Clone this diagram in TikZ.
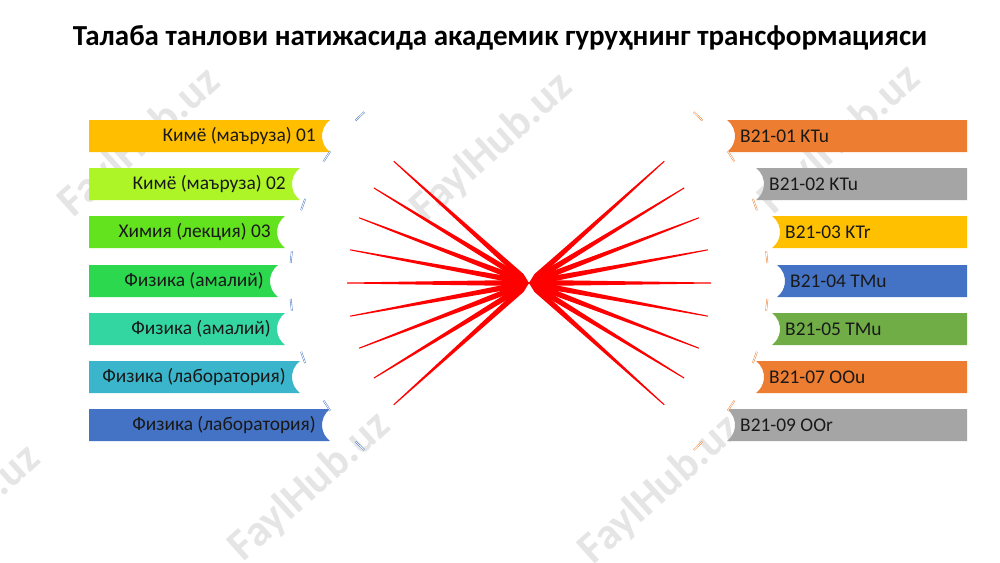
\documentclass[tikz,border=0pt]{standalone}
\usepackage{fontspec}
\setmainfont{Carlito}
\definecolor{lbarA}{HTML}{FFBE00}
\definecolor{lbarB}{HTML}{ADF527}
\definecolor{lbarC}{HTML}{63E21E}
\definecolor{lbarD}{HTML}{2CD84E}
\definecolor{lbarE}{HTML}{33D6A0}
\definecolor{lbarF}{HTML}{3AB5CB}
\definecolor{lbarG}{HTML}{4472C4}
\definecolor{rbarA}{HTML}{ED7D31}
\definecolor{rbarB}{HTML}{A5A5A5}
\definecolor{rbarC}{HTML}{FFC000}
\definecolor{rbarD}{HTML}{4472C4}
\definecolor{rbarE}{HTML}{70AD47}
\begin{document}
\begin{tikzpicture}[x=1pt, y=-1pt,
    bartext/.style={font=\fontsize{19.4}{22}\selectfont, text=black!90, inner sep=0pt},
    ray/.style={fill=red},
    bluemark/.style={draw=lbarG, double=white, double distance=0.8pt, line width=0.45pt},
    orangemark/.style={bluemark, draw=rbarA},
    wmark/.style={font=\fontsize{44}{48}\selectfont\bfseries, text=black!10, rotate=42}]
    \useasboundingbox (0,0) rectangle (1000,562);
    \fill[white] (0,0) rectangle (1000,562);

    % watermark
    \node[wmark] (wm1) at (140,143) {FaylHub.uz};
    \node[wmark] (wm2) at (492,148) {FaylHub.uz};
    \node[wmark] (wm3) at (840,140) {FaylHub.uz};
    \node[wmark] (wm4) at (-40,520) {FaylHub.uz};
    \node[wmark] (wm5) at (310,487) {FaylHub.uz};
    \node[wmark] (wm6) at (660,490) {FaylHub.uz};

    \node[font=\fontsize{29}{33}\selectfont\bfseries] (title) at (500,38)
        {Талаба танлови натижасида академик гуруҳнинг трансформацияси};

    \coordinate (apex) at (529,283);
    \coordinate (cl) at (519,281);
    \coordinate (cr) at (539,281);

    % left bars
    \foreach \yc/\xe/\col/\txt [count=\i] in {136/330/lbarA/Кимё (маъруза) 01,
        184/300/lbarB/Кимё (маъруза) 02, 232/285/lbarC/Химия (лекция) 03,
        281/278/lbarD/Физика (амалий), 329/285/lbarE/Физика (амалий),
        377/300/lbarF/Физика (лаборатория), 425/330/lbarG/Физика (лаборатория)}{
        \fill[\col] (89,\yc-16) -- (\xe,\yc-16) arc[start angle=233.13, end angle=126.87, radius=20]
            -- (89,\yc+16) -- cycle;
        \node[bartext, anchor=east] (l\i) at (\xe-14,\yc) {\txt};
    }

    % right bars
    \foreach \yc/\xs/\col/\txt [count=\i] in {136/727/rbarA/B21-01 KTu,
        184/756/rbarB/B21-02 KTu, 232/772/rbarC/B21-03 KTr,
        281/777/rbarD/B21-04 TMu, 329/772/rbarE/B21-05 TMu,
        377/756/rbarA/B21-07 OOu, 425/727/rbarB/B21-09 OOr}{
        \fill[\col] (967,\yc-16) -- (\xs,\yc-16) arc[start angle=-53.13, end angle=53.13, radius=20]
            -- (967,\yc+16) -- cycle;
        \node[bartext, anchor=west] (r\i) at (\xs+13,\yc) {\txt};
    }

    % fans
    \foreach \a in {-42,-31.5,...,42}{
        \fill[ray, shift={(apex)}, rotate=\a] (0,0) -- (-10,3) -- (-182,0.5) -- (-182,-0.5) -- (-10,-3) -- cycle;
        \fill[ray, shift={(apex)}, rotate=\a] (0,0) -- (10,3) -- (182,0.5) -- (182,-0.5) -- (10,-3) -- cycle;
    }

    % arc marks
    \foreach \a in {134,147,160.5,174,186,199.5,213,226}
        \draw[bluemark, shift={(cl)}, rotate=\a] (229,-6) -- (229,6);
    \foreach \a in {46,33,19.5,6,-6,-19.5,-33,-46}
        \draw[orangemark, shift={(cr)}, rotate=\a] (229,-6) -- (229,6);
\end{tikzpicture}
\end{document}
